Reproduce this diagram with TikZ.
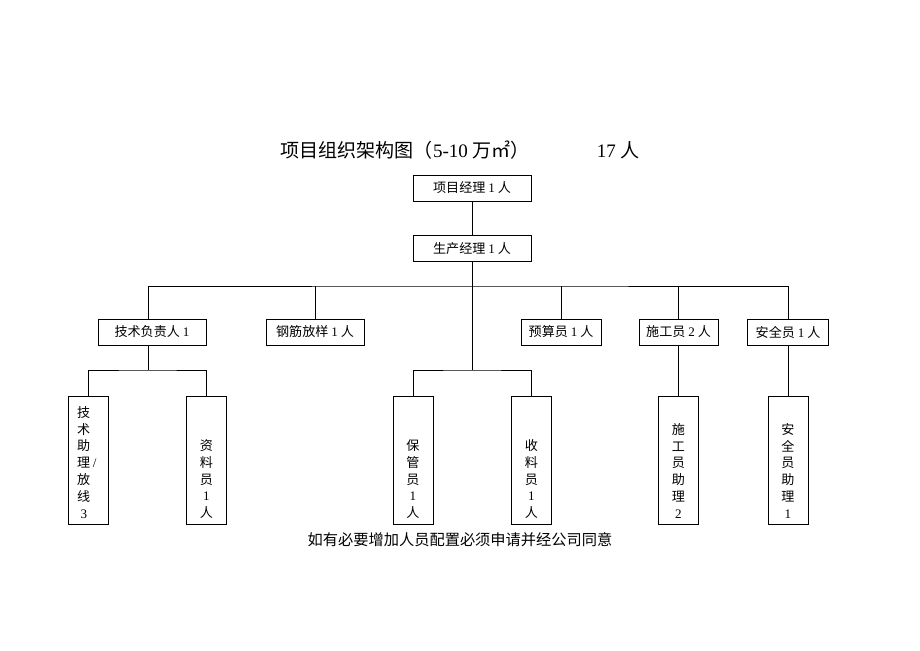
\documentclass[tikz,border=0pt]{standalone}
\usepackage{fontspec}
\setmainfont{Liberation Serif}
\newfontfamily\cjk{Noto Sans CJK SC}

\newcommand{\nr}[1]{{\rmfamily #1}}
\newcommand{\colbox}[1]{\parbox[c][3.75cm][b]{1.29cm}{\centering #1}}

\tikzstyle{heading} = [font=\cjk\fontsize{17.5pt}{20pt}\selectfont]
\tikzstyle{remark} = [font=\cjk\fontsize{14pt}{17pt}\selectfont]
\tikzstyle{post} = [rectangle, draw=black, line width=0.6pt, inner sep=0pt, minimum height=0.84cm, text centered, font=\cjk\fontsize{12pt}{15.4pt}\selectfont]
\tikzstyle{column} = [rectangle, draw=black, line width=0.6pt, inner sep=0pt, minimum width=1.29cm, minimum height=4.13cm, font=\cjk\fontsize{12pt}{15.4pt}\selectfont]
\tikzstyle{link} = [line width=0.6pt]

\begin{document}
\begin{tikzpicture}[x=0.03228cm, y=-0.03228cm]
		\useasboundingbox (0,0) rectangle (920,651);
		\node (title) [heading] at (405,150) {项目组织架构图（\nr{5-10} 万㎡）};
		\node (count) [heading] at (618,150) {\nr{17} 人};
		
		\node (pm) [post, minimum width=3.81cm] at (472,188) {项目经理 \nr{1} 人};
		\node (prod) [post, minimum width=3.81cm] at (472,248.5) {生产经理 \nr{1} 人};
		\node (tech) [post, minimum width=3.49cm] at (152,332) {技术负责人 \nr{1}};
		\node (rebar) [post, minimum width=3.16cm] at (315,332) {钢筋放样 \nr{1} 人};
		\node (budget) [post, minimum width=2.58cm] at (561,332) {预算员 \nr{1} 人};
		\node (build) [post, minimum width=2.55cm] at (678.5,332) {施工员 \nr{2} 人};
		\node (safety) [post, minimum width=2.61cm] at (788,332) {安全员 \nr{1} 人};
		
		\node (techasst) [column] at (88,460) {\parbox[c][3.75cm][b]{1.29cm}{\leftskip=0.29cm 技\\术\\助\\理 \nr{/}\\放\\线\\\hspace*{0.12cm}\nr{3}}};
		\node (docs) [column] at (206.5,460) {\colbox{资\\料\\员\\\nr{1}\\人}};
		\node (keeper) [column] at (413,460) {\colbox{保\\管\\员\\\nr{1}\\人}};
		\node (receiver) [column] at (531.5,460) {\colbox{收\\料\\员\\\nr{1}\\人}};
		\node (buildasst) [column] at (678.5,460) {\colbox{施\\工\\员\\助\\理\\\nr{2}}};
		\node (safetyasst) [column] at (788,460) {\colbox{安\\全\\员\\助\\理\\\nr{1}}};
		
		\node (note) [remark] at (460,540) {如有必要增加人员配置必须申请并经公司同意};
		
		\coordinate (bus) at (472,286);
		\coordinate (hub) at (472,370);
		\coordinate (techhub) at (148,370);
		
		% Main line
		\draw [link] (pm) -- (prod);
		\draw [link] (prod) -- (hub);
		% Second level
		\draw [link] (techhub |- tech.north) |- (bus) -| (safety.north);
		\draw [link] (rebar) -- (rebar |- bus);
		\draw [link] (budget) -- (budget |- bus);
		\draw [link] (build) -- (build |- bus);
		% Third level
		\draw [link] (techhub |- tech.south) -- (techhub);
		\draw [link] (techasst) |- (techhub) -| (docs);
		\draw [link] (keeper) |- (hub) -| (receiver);
		\draw [link] (build) -- (buildasst);
		\draw [link] (safety) -- (safetyasst);
	\end{tikzpicture}
\end{document}
